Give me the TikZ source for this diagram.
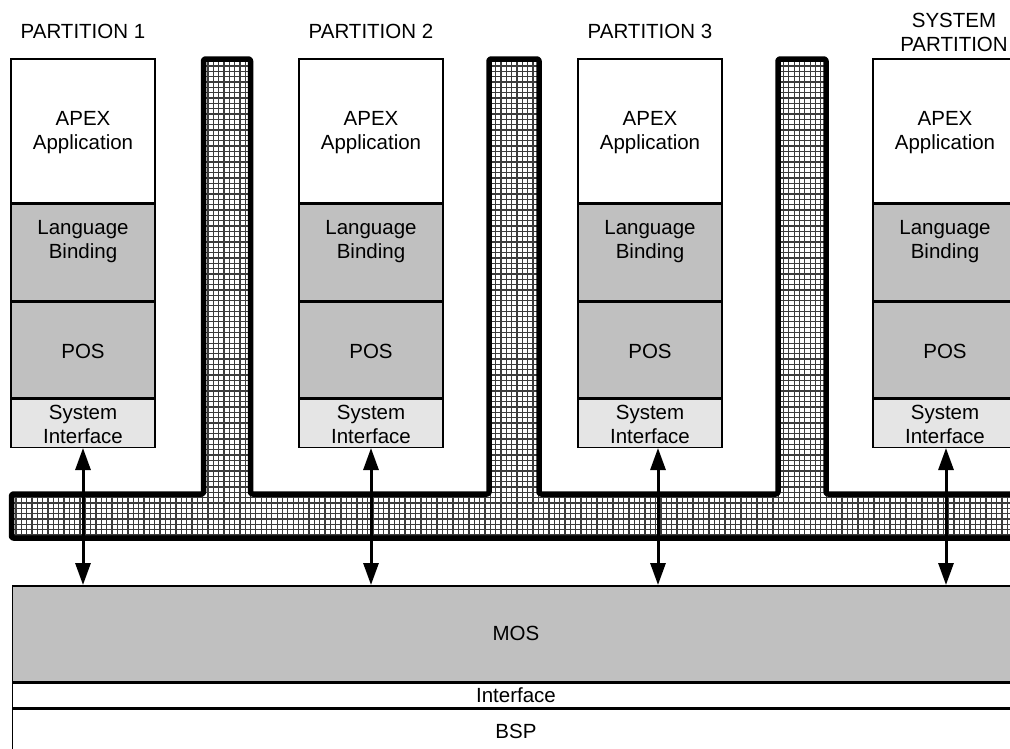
\documentclass[tikz,border=0pt]{standalone}
\usepackage{fontspec}
\setmainfont{Liberation Sans}
\usetikzlibrary{arrows.meta,calc}
\definecolor{midgray}{RGB}{192,192,192}
\definecolor{lightgray2}{RGB}{229,229,229}
\definecolor{gridgray}{RGB}{60,60,60}
\begin{document}
\begin{tikzpicture}[x=1pt,y=-1pt,
  every node/.style={font=\fontsize{20.5}{24}\selectfont, align=center, inner sep=0pt},
  part/.style={draw, line width=1.5pt, minimum width=144pt, anchor=north},
  apexbox/.style={part, fill=white, minimum height=144pt},
  langbox/.style={part, fill=midgray, minimum height=96pt},
  posbox/.style={part, fill=midgray, minimum height=96pt},
  sifbox/.style={part, fill=lightgray2, minimum height=48pt},
  layer/.style={draw, line width=1.5pt, minimum width=1007.5pt, anchor=north west},
  gridline/.style={line width=1.3pt, draw=gridgray},
  combline/.style={line width=5.5pt, rounded corners=2pt, line join=round},
  arr/.style={line width=3pt, {Triangle[length=22pt,width=15pt]}-{Triangle[length=22pt,width=15pt]}}
]
\useasboundingbox (0,0) rectangle (1010,748);

% bottom layers
\node[layer, fill=midgray, minimum height=96pt] (mos) at (11.5,585) {MOS};
\node[layer, fill=white, minimum height=24pt] (iface) at (mos.south west) {Interface};
\node[layer, fill=white, minimum height=45pt] (bsp) at (iface.south west) {BSP};

% comb (partitioning kernel)
\begin{scope}
  \clip (11.5,538) -- (11.5,494) -- (203.5,494) -- (203.5,59) -- (250.5,59) -- (250.5,494)
     -- (489,494) -- (489,59) -- (539,59) -- (539,494)
     -- (778,494) -- (778,59) -- (826,59) -- (826,494)
     -- (1025,494) -- (1025,538) -- cycle;
  \foreach \i in {0,...,192} \draw[gridline] (\i*5.33,50) -- (\i*5.33,545);
  \foreach \j in {0,...,93} \draw[gridline] (0,50+\j*5.33) -- (1025,50+\j*5.33);
\end{scope}
\draw[combline] (11.5,538) -- (11.5,494) -- (203.5,494) -- (203.5,59) -- (250.5,59) -- (250.5,494)
     -- (489,494) -- (489,59) -- (539,59) -- (539,494)
     -- (778,494) -- (778,59) -- (826,59) -- (826,494)
     -- (1025,494) -- (1025,538) -- cycle;

% partitions
\foreach \n/\cx/\ax in {1/83/83, 2/371/371, 3/650/658, 4/945/946} {
  \node[apexbox] (apex\n) at (\cx,58) {};
  \node (apextxt\n) at ($(apex\n.center)+(0,2)$) {APEX\\Application};
  \node[langbox] (lang\n) at (apex\n.south) {};
  \node (langtxt\n) at ($(lang\n.center)+(0,-11)$) {Language\\Binding};
  \node[posbox] (pos\n) at (lang\n.south) {};
  \node (postxt\n) at ($(pos\n.center)+(0,1.5)$) {POS};
  \node[sifbox] (sif\n) at (pos\n.south) {};
  \node (siftxt\n) at ($(sif\n.center)+(0,1.5)$) {System\\Interface};
  \coordinate (up\n) at ($(sif\n.south)+(\ax-\cx,0)$);
  \draw[arr] (up\n) -- (up\n |- mos.north);
}

% titles
\node (lab1) at (83,31) {PARTITION 1};
\node (lab2) at (371,31) {PARTITION 2};
\node (lab3) at (650,31) {PARTITION 3};
\node (lab4) at (954,32) {SYSTEM\\PARTITION};
\end{tikzpicture}
\end{document}
